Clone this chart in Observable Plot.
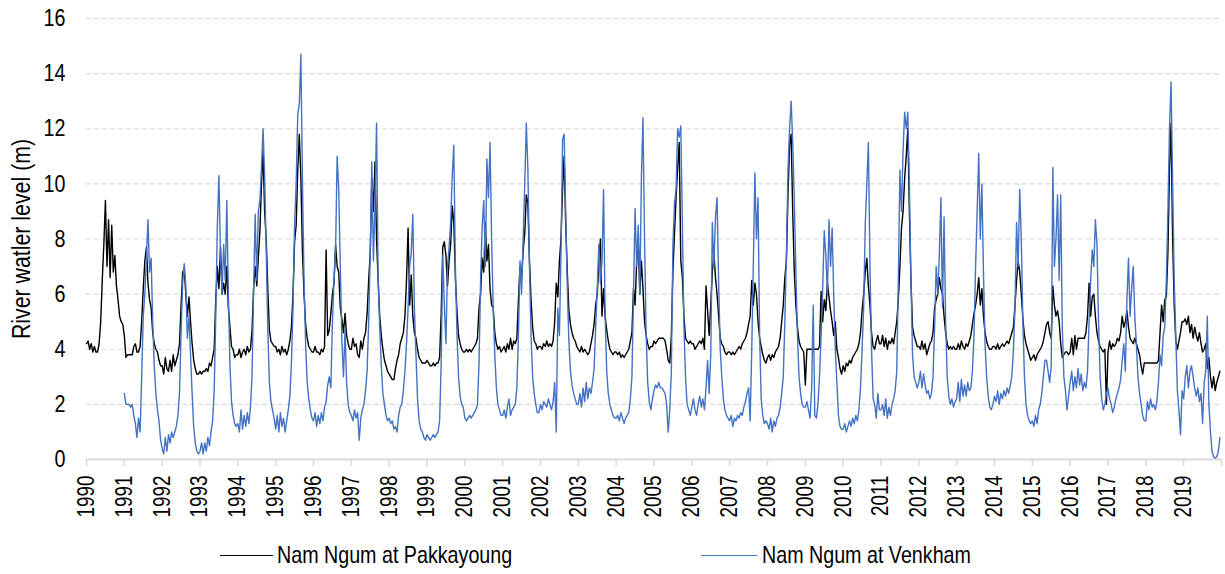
<!DOCTYPE html>
<html>
<head>
<meta charset="utf-8">
<script src="https://cdn.jsdelivr.net/npm/d3@7"></script>
<script src="https://cdn.jsdelivr.net/npm/@observablehq/plot@0.6"></script>
<style>
  html, body { margin: 0; padding: 0; background: #fff; }
  #wrap { position: relative; width: 1225px; height: 574px; font-family: "Liberation Sans", Arial, sans-serif; }
  .leg { position: absolute; top: 541px; font-size: 24px; color: #000; white-space: nowrap; line-height: 28px; height: 28px; }
  .leg .sw { position: absolute; top: 14px; height: 0; border-top: 1.3px solid; }
  .leg .tx { position: absolute; top: 0; display: inline-block; transform: scaleX(0.82); transform-origin: 0 50%; }
</style>
</head>
<body>
<div id="wrap"></div>
<script>
// ---- Data (semi-monthly readings, 24 per year) ----
const startYear = 1990;
const samplesPerYear = 24;
const seriesNames = ["Nam Ngum at Pakkayoung", "Nam Ngum at Venkham"];
const seriesColors = ["#000000", "#4472C4"];
const yTicks = [0, 2, 4, 6, 8, 10, 12, 14, 16];
const yLabel = "River watler level (m)";
const yearTicks = d3.range(1990, 2021);

// Nam Ngum at Pakkayoung, one row per year 1990..2019
const pakkayoung = [
  [4.2,4.3,4.0,4.2,3.9,4.1,3.9,3.9,4.2,5.0,6.5,7.8,9.4,7.0,8.7,6.6,8.5,6.8,7.4,6.3,5.8,5.2,5.0,4.9],
  [4.5,3.7,3.8,3.8,3.8,3.8,4.1,4.2,3.9,3.9,4.1,5.0,6.2,7.2,7.7,6.4,5.8,5.5,4.6,4.2,4.0,3.9,3.6,3.4],
  [3.4,3.1,3.7,3.3,3.2,3.6,3.2,3.8,3.4,3.6,3.8,4.2,5.6,6.8,6.9,6.0,5.2,5.9,5.0,4.2,3.6,3.3,3.1,3.1],
  [3.2,3.1,3.2,3.2,3.3,3.2,3.5,3.4,3.7,4.0,5.8,7.0,6.2,7.7,6.0,6.4,6.0,7.0,5.5,4.8,4.1,4.0,3.7,3.8],
  [3.8,4.0,3.7,3.9,4.0,3.8,4.1,3.9,4.0,4.7,6.2,7.0,6.3,7.3,8.3,10.0,11.2,9.0,8.0,6.2,4.7,4.3,4.2,4.1],
  [4.1,3.9,4.0,3.8,4.1,3.9,4.0,3.8,4.0,4.3,4.8,6.0,7.9,8.5,10.5,11.8,10.2,7.5,6.0,4.9,4.4,4.1,4.0,3.9],
  [3.9,4.1,3.9,3.9,3.8,4.0,3.9,4.1,7.6,4.5,4.7,5.3,6.0,6.4,7.8,7.0,6.8,5.5,5.1,4.6,5.3,4.5,4.2,4.0],
  [4.0,4.4,4.1,4.2,3.8,3.7,4.3,4.0,4.4,4.6,5.3,6.5,7.5,10.2,9.0,10.8,8.0,6.5,5.2,4.5,4.0,3.6,3.4,3.2],
  [3.1,3.0,2.9,2.9,3.3,3.6,3.8,4.2,4.4,4.6,5.2,6.5,8.4,5.6,6.7,5.2,4.6,4.4,4.0,3.7,3.6,3.5,3.5,3.5],
  [3.6,3.5,3.4,3.4,3.5,3.4,3.5,3.5,3.7,5.3,7.7,7.9,7.4,6.3,7.2,7.8,9.2,8.6,6.6,5.4,4.5,4.2,4.0,3.9],
  [3.9,4.0,3.9,4.0,3.9,4.0,4.1,4.2,4.4,5.5,6.0,7.3,6.8,8.6,7.2,7.8,6.2,5.6,5.5,4.6,4.2,4.0,4.1,3.9],
  [4.0,4.1,3.9,4.2,4.0,4.4,4.0,4.3,4.2,4.4,5.8,7.0,6.6,7.6,8.2,9.6,9.3,7.2,5.8,4.8,4.3,4.2,4.0,4.1],
  [4.1,4.0,4.2,4.1,4.3,4.1,4.2,4.1,4.3,5.0,6.4,5.9,7.2,8.0,9.8,11.0,8.5,6.8,5.4,4.9,4.6,4.4,4.3,4.1],
  [4.0,3.9,4.1,3.9,4.0,3.9,3.8,3.9,4.2,4.5,4.9,5.6,6.0,7.1,8.0,5.2,6.2,5.2,4.7,4.3,4.0,3.9,3.8,3.9],
  [3.9,3.8,3.9,3.7,3.8,3.7,3.8,3.9,4.0,4.3,4.6,6.2,5.6,7.2,8.0,6.0,7.2,6.2,5.0,4.5,4.2,4.0,4.1,4.1],
  [4.3,4.2,4.3,4.4,4.4,4.4,4.4,4.3,4.0,3.6,3.5,4.5,6.8,8.2,9.5,10.6,11.5,7.2,6.6,5.2,4.4,4.3,4.2,4.3],
  [4.2,4.2,4.0,4.1,4.2,4.3,4.2,4.4,4.0,6.3,5.4,4.5,5.6,6.8,7.5,6.6,6.0,5.2,4.4,4.2,4.1,3.9,3.8,3.9],
  [3.9,3.8,3.9,3.8,3.9,4.0,4.1,4.0,4.2,4.3,4.4,4.6,4.9,5.2,6.5,5.6,6.4,6.0,5.0,4.4,4.1,3.8,3.6,3.5],
  [3.7,3.8,3.6,3.8,3.7,3.9,4.0,4.1,4.4,5.0,5.6,6.6,7.2,9.6,11.4,11.8,9.0,6.8,5.6,4.8,4.3,4.1,4.0,3.9],
  [2.7,4.0,4.0,4.0,4.0,4.0,4.0,4.0,4.0,4.1,6.1,5.0,5.8,5.4,6.4,5.9,5.4,5.0,4.5,5.0,4.0,3.7,3.3,3.1],
  [3.4,3.2,3.5,3.4,3.6,3.5,3.7,3.8,3.9,4.0,4.2,4.6,5.4,6.0,6.8,7.3,6.3,5.6,4.6,4.1,4.0,4.3,4.5,4.2],
  [4.2,4.5,4.1,4.4,4.0,4.3,4.2,4.4,4.2,4.6,5.0,5.8,7.0,8.4,9.0,10.2,11.0,12.0,9.0,6.5,4.8,4.5,4.3,4.1],
  [4.1,4.0,4.3,4.0,4.2,3.8,4.0,4.2,4.3,4.6,5.5,5.8,6.0,6.6,6.2,6.0,5.2,4.6,4.2,4.0,4.1,4.0,4.1,4.0],
  [4.0,4.2,4.0,4.3,4.1,4.0,4.2,4.1,4.3,4.5,4.9,5.3,5.6,6.0,6.6,5.6,6.2,5.2,4.6,4.3,4.1,4.0,4.0,4.1],
  [4.1,4.0,4.2,4.0,4.1,4.2,4.1,4.2,4.3,4.2,4.4,4.6,4.8,5.6,6.5,7.2,6.8,6.0,5.1,4.5,4.2,4.0,3.8,3.6],
  [3.7,3.8,3.6,3.8,3.9,4.0,4.1,4.3,4.6,4.9,5.0,4.6,4.4,6.3,5.6,5.2,5.4,5.0,4.2,3.7,3.8,3.9,3.9,3.8],
  [3.9,4.4,3.8,4.5,4.0,4.4,4.4,4.4,4.4,4.4,4.6,5.2,6.4,5.2,5.9,6.0,5.2,4.6,4.3,4.1,4.0,3.9,4.0,2.0],
  [3.9,4.3,4.0,4.2,4.1,4.2,4.4,4.3,4.6,5.2,4.8,5.0,5.4,4.8,4.4,4.3,4.2,4.4,4.2,4.0,3.8,3.4,3.1,3.5],
  [3.5,3.5,3.5,3.5,3.5,3.5,3.5,3.5,3.6,4.6,5.6,5.0,5.8,5.9,7.5,10.5,12.2,8.0,5.6,4.3,4.0,4.3,4.6,5.0],
  [5.0,5.1,4.9,5.2,4.6,4.9,4.4,4.8,4.5,4.3,4.6,4.2,3.9,4.0,4.2,3.3,3.7,3.0,2.6,3.0,2.5,2.8,3.0,3.2]
];

// Nam Ngum at Venkham, one row per year 1990..2019 (no record in 1990)
const venkham = [
  [],
  [2.4,2.0,2.0,2.0,1.9,2.0,1.6,1.3,0.8,1.5,1.0,3.0,5.2,6.0,7.3,8.7,6.8,7.3,5.0,3.4,2.4,1.8,1.4,0.7],
  [0.4,0.2,0.8,0.3,0.9,0.6,1.0,0.8,1.0,1.2,1.6,2.4,4.6,6.4,7.1,6.3,4.4,5.2,3.8,2.4,1.2,0.6,0.3,0.2],
  [0.3,0.6,0.2,0.6,0.3,0.8,0.5,1.0,1.4,2.5,5.2,8.5,10.3,7.4,6.0,7.8,6.5,9.4,6.0,3.4,2.1,1.6,1.3,1.2],
  [1.3,1.0,1.8,1.1,1.6,1.2,1.7,1.3,1.9,3.0,6.1,8.9,6.5,9.0,9.4,10.6,12.0,10.3,7.6,4.8,2.8,2.1,1.8,1.5],
  [1.1,1.6,1.0,1.7,1.2,1.5,1.0,1.4,1.8,2.3,3.5,5.5,8.5,10.0,12.5,12.9,14.7,10.0,6.5,4.2,2.8,2.2,1.8,1.5],
  [1.4,1.7,1.2,1.6,1.3,1.7,1.4,1.9,2.1,2.7,3.0,2.6,5.0,6.5,7.6,11.0,9.8,7.0,4.3,3.0,4.7,2.8,2.0,1.7],
  [1.6,1.4,1.8,1.5,1.7,0.7,1.5,1.8,2.0,2.5,3.2,5.0,7.5,10.8,7.2,9.2,12.2,6.6,4.8,3.4,2.4,2.0,1.6,1.4],
  [1.5,1.3,1.4,1.1,1.2,1.0,1.6,1.9,2.0,2.5,3.2,4.2,5.5,7.0,7.5,8.9,5.5,3.8,2.2,1.4,1.1,1.0,0.8,0.7],
  [0.9,0.8,0.7,0.8,0.9,0.8,0.9,1.0,1.4,3.5,7.4,5.6,4.2,7.0,7.7,8.6,10.3,11.4,7.0,4.6,3.0,2.3,2.0,1.9],
  [1.5,1.4,1.5,1.6,1.5,1.6,1.7,1.8,2.0,3.5,6.5,8.5,9.4,7.0,10.9,9.5,11.5,8.0,5.5,3.8,2.6,2.0,1.8,1.6],
  [1.6,1.8,1.5,1.9,2.2,1.6,1.8,1.9,2.0,2.6,4.5,7.2,6.0,8.0,10.0,12.2,10.5,7.0,4.5,3.0,2.4,2.0,1.7,1.7],
  [2.0,1.8,2.1,2.0,1.9,2.2,2.0,1.8,2.1,2.8,1.0,5.5,4.5,7.5,11.6,11.8,9.0,6.2,4.3,3.2,2.7,2.4,2.2,2.0],
  [2.0,2.4,1.9,2.6,2.1,2.8,2.2,2.6,2.4,2.8,3.3,4.8,6.2,7.8,6.4,7.2,9.8,5.2,3.2,2.4,2.0,1.8,1.6,1.5],
  [1.5,1.6,1.4,1.7,1.5,1.3,1.5,1.6,1.7,2.2,3.0,6.0,9.1,7.0,8.5,6.0,10.2,12.4,8.0,4.6,2.8,2.1,1.8,2.2],
  [2.5,2.7,2.6,2.8,2.6,2.6,2.5,2.4,2.0,1.0,1.8,3.2,7.8,9.3,9.8,12.0,11.7,12.1,8.5,4.8,3.0,2.0,1.8,1.6],
  [1.9,2.2,1.8,1.6,2.0,2.3,1.9,2.2,1.8,2.6,3.6,2.4,3.8,8.6,7.0,8.8,9.5,6.4,4.0,3.0,2.2,1.8,1.6,1.5],
  [1.4,1.6,1.2,1.5,1.4,1.6,1.5,1.7,1.6,1.9,2.1,2.4,2.6,1.4,4.0,7.0,10.4,8.0,9.5,4.5,2.2,1.6,1.3,1.4],
  [1.3,1.1,1.5,1.0,1.4,1.2,1.5,1.6,1.9,2.4,3.0,5.0,7.5,10.5,12.0,13.0,11.5,9.4,6.8,4.5,3.0,2.4,2.0,1.9],
  [1.9,2.1,1.8,1.5,2.6,5.6,1.6,1.5,2.0,3.0,4.5,6.2,8.3,7.4,6.0,8.7,7.0,8.4,6.0,4.0,2.8,1.6,1.2,1.1],
  [1.1,1.3,1.0,1.2,1.4,1.2,1.5,1.3,1.6,1.4,1.8,2.6,4.0,5.5,8.5,10.0,11.5,7.0,4.0,2.2,2.0,1.5,2.4,1.8],
  [1.8,2.0,1.6,2.2,1.5,1.9,1.6,2.0,2.2,2.5,3.2,6.5,10.5,9.0,11.2,12.6,12.0,12.6,10.0,6.5,3.8,3.0,2.8,2.6],
  [2.8,3.2,2.6,3.1,2.7,2.4,2.5,2.2,2.4,3.0,4.8,7.0,6.0,7.4,9.5,5.5,8.8,5.0,3.0,2.3,2.0,2.2,1.9,2.1],
  [2.2,2.8,2.1,2.9,2.3,2.7,2.3,2.8,2.5,2.6,3.2,4.5,7.0,9.0,11.1,8.0,10.0,6.8,4.2,3.0,2.3,1.9,1.8,2.0],
  [2.3,2.1,2.5,2.0,2.4,2.2,2.5,2.3,2.6,2.4,2.7,3.0,4.0,5.5,8.6,7.0,9.8,8.0,5.0,3.0,2.0,1.6,1.4,1.3],
  [1.4,1.2,1.6,1.3,1.8,2.0,2.4,3.0,3.6,3.6,3.2,2.8,3.4,10.6,7.0,8.0,9.6,6.5,9.6,4.8,3.0,2.5,1.8,2.3],
  [2.8,3.2,2.5,3.0,2.6,3.3,2.7,3.1,2.5,2.8,2.6,3.2,5.0,6.5,7.6,7.0,8.7,7.8,5.0,3.0,2.2,1.8,2.0,2.4],
  [2.6,2.2,2.0,1.7,1.9,2.2,2.4,2.6,2.9,3.6,4.2,3.2,5.8,7.3,5.2,6.2,7.0,5.2,4.2,3.0,2.4,2.0,1.6,1.4],
  [1.4,2.1,1.8,2.2,1.9,2.0,1.8,2.1,2.8,3.8,3.4,4.5,4.8,6.5,9.0,12.0,13.7,10.0,6.5,4.5,2.5,1.8,0.9,2.5],
  [2.2,3.0,3.4,2.6,3.2,3.4,3.0,2.6,2.3,2.6,2.1,2.4,1.3,2.8,3.2,5.2,2.0,1.0,0.3,0.1,0.05,0.1,0.3,0.8]
];

// ---- Build tidy table ----
function toRows(table, name) {
  const out = [];
  table.forEach((vals, k) => vals.forEach((v, i) => out.push({series: name, t: startYear + k + i / samplesPerYear, v})));
  return out;
}
const rowsP = toRows(pakkayoung, seriesNames[0]);
const rowsV = toRows(venkham, seriesNames[1]);

const FONT = '"Liberation Sans", Arial, sans-serif';

const chart = Plot.plot({
  width: 1225,
  height: 536,
  marginLeft: 86,
  marginRight: 4,
  marginTop: 18,
  marginBottom: 77,
  style: {fontFamily: FONT, fontSize: "23px", color: "#000", background: "#fff"},
  x: {domain: [1990, 2020], label: null},
  y: {domain: [0, 16], label: null},
  marks: [
    Plot.ruleY(yTicks.filter(d => d > 0), {stroke: "#d9d9d9", strokeWidth: 1.2, strokeDasharray: "5,3"}),
    Plot.axisY({ticks: yTicks, tickSize: 0, tickPadding: 21, fontSize: 24, label: null}),
    Plot.axisX({ticks: yearTicks, tickSize: 7, text: null, stroke: "#d9d9d9", strokeWidth: 1.5, label: null}),
    Plot.axisX({ticks: yearTicks.filter(d => d < 2020), tickSize: 0, tickPadding: 16, tickRotate: -90,
                tickFormat: d => String(d), fontSize: 23, label: null}),
    Plot.ruleY([0], {stroke: "#d9d9d9", strokeWidth: 2}),
    Plot.text([yLabel], {frameAnchor: "left", textAnchor: "middle", lineAnchor: "middle", rotate: -90, dx: -65, fontSize: 26, fill: "#000"}),
    Plot.lineY(rowsP, {x: "t", y: "v", stroke: seriesColors[0], strokeWidth: 1.4}),
    Plot.lineY(rowsV, {x: "t", y: "v", stroke: seriesColors[1], strokeWidth: 1.4})
  ]
});

const wrap = document.getElementById("wrap");
chart.style.position = "absolute";
chart.style.left = "0px";
chart.style.top = "0px";
wrap.appendChild(chart);

// narrow-face look (the original uses a condensed sans): compress every text along its baseline
chart.querySelectorAll("text").forEach(t => {
  const L = t.getComputedTextLength();
  if (L > 0) {
    t.setAttribute("textLength", (L * 0.82).toFixed(1));
    t.setAttribute("lengthAdjust", "spacingAndGlyphs");
  }
});

// ---- Legend ----
const legendPos = [{sw: 220, len: 53, tx: 277}, {sw: 701, len: 56, tx: 762}];
seriesNames.forEach((name, i) => {
  const item = document.createElement("div");
  item.className = "leg";
  item.style.left = legendPos[i].sw + "px";
  item.innerHTML = `<span class="sw" style="left:0;width:${legendPos[i].len}px;border-color:${seriesColors[i]}"></span>` +
                   `<span class="tx" style="left:${legendPos[i].tx - legendPos[i].sw}px">${name}</span>`;
  wrap.appendChild(item);
});
</script>
</body>
</html>
